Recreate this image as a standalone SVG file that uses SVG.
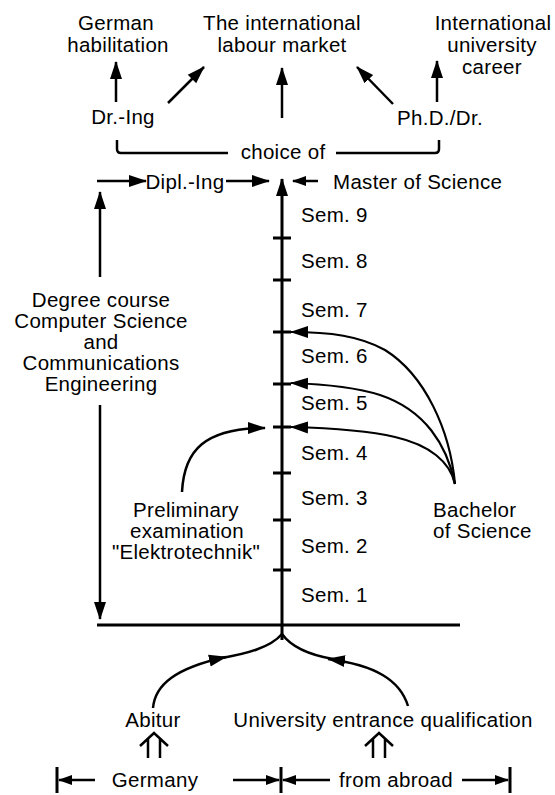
<svg xmlns="http://www.w3.org/2000/svg" width="555" height="795" viewBox="0 0 555 795">
<style>
text{font-family:"Liberation Sans",Arial,sans-serif;font-size:20.5px;fill:#000;letter-spacing:0.3px}
.c{text-anchor:middle}
.ln{fill:none;stroke:#000;stroke-width:2.5}
.ax{fill:none;stroke:#000;stroke-width:3}
.tk{stroke:#000;stroke-width:3}
.cv{fill:none;stroke:#000;stroke-width:2.2}
</style>
<defs>
<marker id="ah" markerUnits="userSpaceOnUse" markerWidth="18" markerHeight="14" refX="17" refY="6" orient="auto" viewBox="0 0 18 12">
<path d="M0,0 L18,6 L0,12 Z" fill="#000"/>
</marker>
<marker id="as" markerUnits="userSpaceOnUse" markerWidth="14" markerHeight="10" refX="13" refY="5" orient="auto" viewBox="0 0 14 10">
<path d="M0,0 L14,5 L0,10 Z" fill="#000"/>
</marker>
</defs>

<g id="n-habilitation"><text class="c" x="116" y="30">German</text><text class="c" x="118" y="52">habilitation</text></g>
<g id="n-labour"><text class="c" x="282" y="30">The international</text><text class="c" x="282" y="52">labour market</text></g>
<g id="n-career"><text class="c" x="493" y="30">International</text><text class="c" x="492" y="52">university</text><text class="c" x="492" y="74">career</text></g>
<g id="n-dring"><text class="c" x="123" y="124">Dr.-Ing</text></g>
<g id="n-phd"><text class="c" x="440" y="125">Ph.D./Dr.</text></g>
<g id="n-choice"><text class="c" x="283" y="159">choice of</text></g>
<g id="n-dipl"><text class="c" x="185" y="189">Dipl.-Ing</text></g>
<g id="n-master"><text x="333" y="189">Master of Science</text></g>
<g id="n-degree"><text class="c" x="101" y="307">Degree course</text><text class="c" x="101" y="328">Computer Science</text><text class="c" x="101" y="349">and</text><text class="c" x="101" y="370">Communications</text><text class="c" x="101" y="391">Engineering</text></g>
<g id="n-sem">
<text x="301" y="222">Sem. 9</text><text x="301" y="268">Sem. 8</text><text x="301" y="317">Sem. 7</text><text x="301" y="363">Sem. 6</text><text x="301" y="410">Sem. 5</text><text x="301" y="460">Sem. 4</text><text x="301" y="505">Sem. 3</text><text x="301" y="553">Sem. 2</text><text x="301" y="602">Sem. 1</text>
</g>
<g id="n-prelim"><text class="c" x="186" y="517">Preliminary</text><text class="c" x="187" y="538">examination</text><text class="c" x="186" y="559">"Elektrotechnik"</text></g>
<g id="n-bachelor"><text x="433" y="517">Bachelor</text><text x="433" y="538">of Science</text></g>
<g id="n-abitur"><text class="c" x="153" y="727">Abitur</text></g>
<g id="n-entrance"><text class="c" x="383" y="727">University entrance qualification</text></g>
<g id="n-germany"><text class="c" x="155" y="787">Germany</text></g>
<g id="n-abroad"><text class="c" x="396" y="787">from abroad</text></g>

<g id="connectors">
<path class="ln" d="M116,102 L116,62" marker-end="url(#ah)"/>
<path class="ln" d="M168,103 L204,67" marker-end="url(#ah)"/>
<path class="ln" d="M282,118 L282,68" marker-end="url(#ah)"/>
<path class="ln" d="M393,104 L357,67" marker-end="url(#ah)"/>
<path class="ln" d="M437,102 L437,61" marker-end="url(#ah)"/>
<path class="ln" d="M117,140 L117,149 Q117,153 121,153 L228,153"/>
<path class="ln" d="M336,153 L435,153 Q439,153 439,149 L439,140"/>
<path class="ln" d="M97,181 L146,181" marker-end="url(#ah)"/>
<path class="ln" d="M226,181 L269,181" marker-end="url(#ah)"/>
<path class="ln" d="M318,181 L293,181" marker-end="url(#as)"/>
<path class="ax" d="M282,640 L282,179" marker-end="url(#ah)"/>
<path class="tk" d="M273,238 H291 M273,280 H291 M273,332 H291 M273,384 H291 M273,427 H291 M273,473 H291 M273,520 H291 M273,570 H291"/>
<path class="ax" d="M97,625 L460,625"/>
<path class="ln" d="M100,277 L100,192" marker-end="url(#ah)"/>
<path class="ln" d="M100,405 L100,619" marker-end="url(#ah)"/>
<path class="cv" d="M455,484 C450,430 425,375 385,350 C360,336 330,332 291,332" marker-end="url(#ah)"/>
<path class="cv" d="M455,484 C447,445 425,410 380,395 C355,387 320,384 291,383" marker-end="url(#ah)"/>
<path class="cv" d="M455,484 C450,462 430,445 395,437 C370,431 330,428 291,427" marker-end="url(#ah)"/>
<path class="ln" d="M182,492 C184,450 205,428 265,428" marker-end="url(#ah)"/>
<path class="ln" d="M153,708 C155,685 175,668 226,657" marker-end="url(#ah)"/>
<path class="ln" d="M222,658 C245,654 270,648 282,634"/>
<path class="ln" d="M408,706 C400,680 375,665 328,659" marker-end="url(#ah)"/>
<path class="ln" d="M333,659 C310,655 292,648 282,634"/>
<path class="ln" d="M140,746 L154,733 L168,746 M148,739 V758 M160,739 V758"/>
<path class="ln" d="M365,746 L379,733 L393,746 M373,739 V758 M385,739 V758"/>
<path class="ax" d="M57,767 V793 M281,767 V793 M510,767 V793"/>
<path class="ln" d="M95,780 L59,780" marker-end="url(#as)"/>
<path class="ln" d="M233,780 L279,780" marker-end="url(#as)"/>
<path class="ln" d="M330,780 L283,780" marker-end="url(#as)"/>
<path class="ln" d="M462,780 L508,780" marker-end="url(#as)"/>
</g>
</svg>
